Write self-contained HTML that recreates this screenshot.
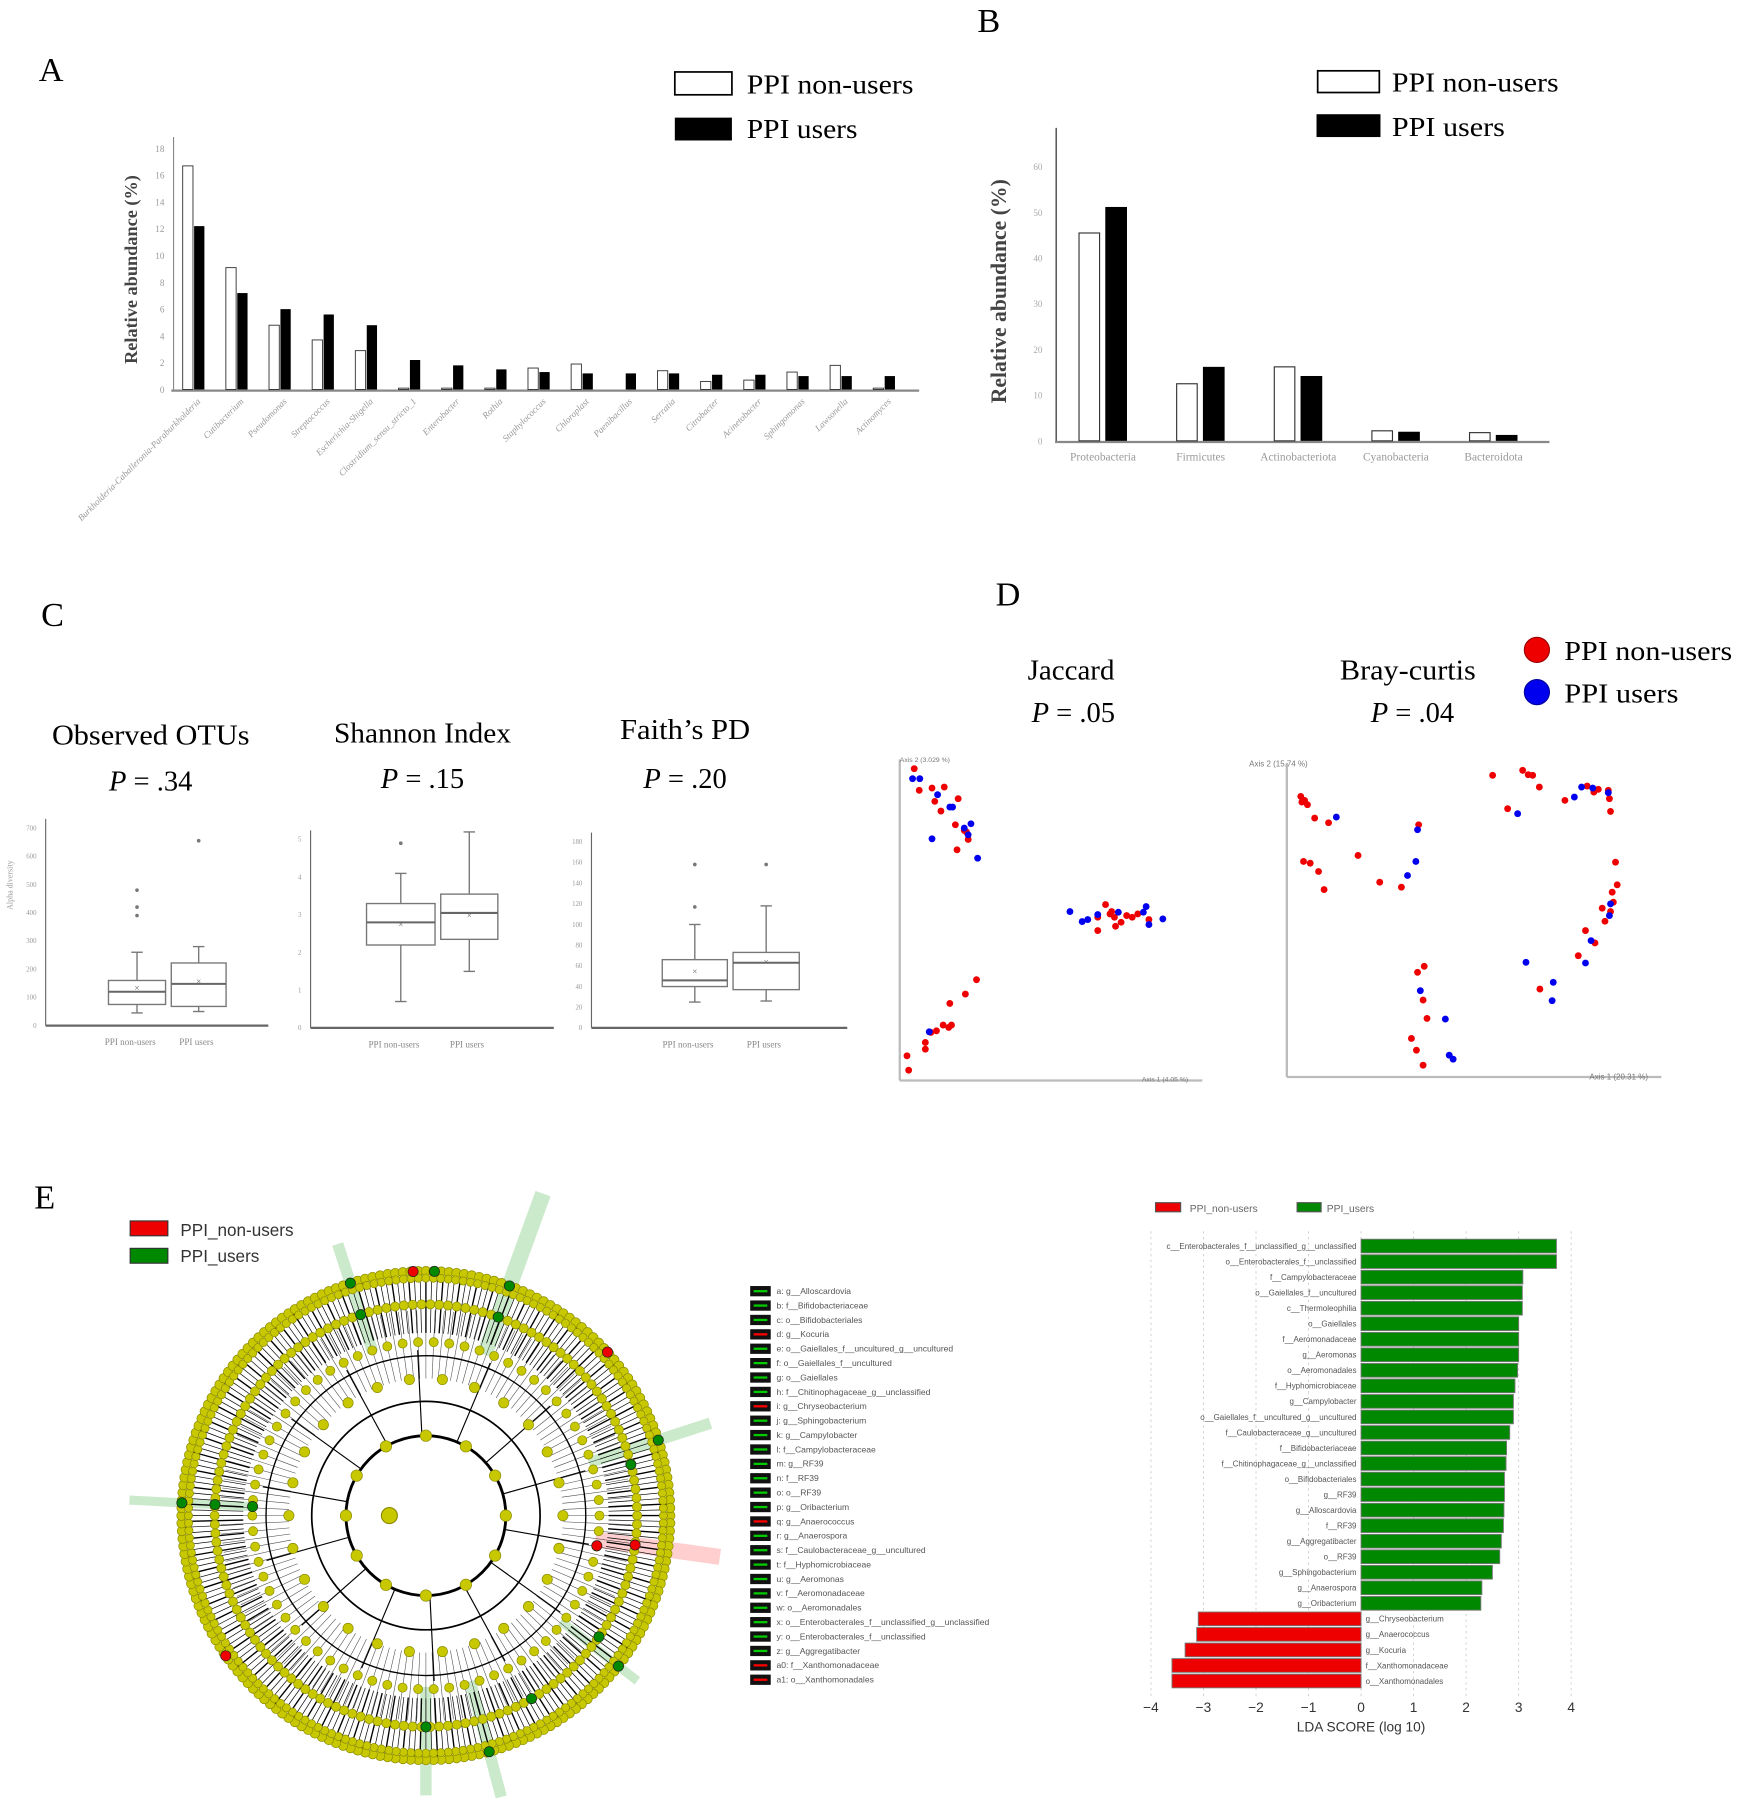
<!DOCTYPE html>
<html><head><meta charset="utf-8"><style>
html,body{margin:0;padding:0;background:#fff;}
svg{display:block;}
.serif{font-family:"Liberation Serif",serif;}
.sans{font-family:"Liberation Sans",sans-serif;}
</style></head><body>
<svg id="fig" xmlns="http://www.w3.org/2000/svg" width="1747" height="1800" viewBox="0 0 1530 1576" preserveAspectRatio="none">
<rect width="1530" height="1576" fill="#fff"/>
<g class="serif" font-size="30">
<text x="34" y="71">A</text>
<text x="856" y="28">B</text>
<text x="36" y="548">C</text>
<text x="872" y="530">D</text>
<text x="30" y="1058">E</text>
</g>
<g id="A"></g>
<g id="B"></g>
<g id="C"></g>
<g id="D"></g>
<g id="E1"></g>
<g id="E2"></g>
<g id="E3"></g>
</svg>
<script>
// ---------- Panel A data ----------
const genusNames = ["Burkholderia-Caballeronia-Paraburkholderia","Cutibacterium","Pseudomonas","Streptococcus","Escherichia-Shigella","Clostridium_sensu_stricto_1","Enterobacter","Rothia","Staphylococcus","Chloroplast","Paenibacillus","Serratia","Citrobacter","Acinetobacter","Sphingomonas","Lawsonella","Actinomyces"];
const genusNonUsers = [16.7,9.1,4.8,3.7,2.9,0.1,0.1,0.1,1.6,1.9,0,1.4,0.6,0.7,1.3,1.8,0.1];
const genusUsers = [12.2,7.2,6.0,5.6,4.8,2.2,1.8,1.5,1.3,1.2,1.2,1.2,1.1,1.1,1.0,1.0,1.0];
const genusTicks = [0,2,4,6,8,10,12,14,16,18];
// ---------- Panel B data ----------
const phylumNames = ["Proteobacteria","Firmicutes","Actinobacteriota","Cyanobacteria","Bacteroidota"];
const phylumNonUsers = [45.5,12.5,16.2,2.2,1.8];
const phylumUsers = [51.2,16.2,14.2,2.0,1.3];
const phylumTicks = [0,10,20,30,40,50,60];
// ---------- Panel C data ----------
const alphaTitles = ["Observed OTUs","Shannon Index","Faith’s PD"];
const alphaP = [".34",".15",".20"];
const alphaTicks = [[0,100,200,300,400,500,600,700],[0,1,2,3,4,5],[0,20,40,60,80,100,120,140,160,180]];
// [whiskerLow, Q1, median, Q3, whiskerHigh, mean]
const otuStats = [[45,75,120,160,260,135],[50,68,148,222,280,158]];
const otuOutliers = [[390,420,480],[655]];
const shannonStats = [[0.7,2.2,2.8,3.3,4.1,2.75],[1.5,2.35,3.05,3.55,5.2,3.0]];
const shannonOutliers = [[4.9],[]];
const faithStats = [[25,40,46,66,100,55],[26,37,63,73,118,64]];
const faithOutliers = [[117,158],[158]];
// ---------- Panel D data (PCoA scores, arbitrary units) ----------
const jacRedX=[88,97,120,142,125,167,136,162,178,185,165,182,432,418,440,448,460,470,480,490,418,450,510,443,200,180,152,140,155,128,118,108,108,75,78,150];
const jacRedY=[100,165,158,155,198,190,227,268,285,312,343,290,507,545,535,545,560,540,545,535,585,572,552,528,732,775,803,868,868,885,890,920,940,960,1003,875];
const jacBlueX=[85,98,130,152,157,120,178,190,185,202,368,390,400,418,455,500,505,510,535,115];
const jacBlueY=[130,130,178,215,215,310,278,265,298,368,528,558,552,537,530,530,513,567,550,888];
const brayRedX=[783,790,795,785,808,833,788,800,815,825,886,925,964,995,1128,1182,1192,1200,1212,1155,1258,1298,1310,1318,1336,1338,1340,1349,1352,1343,1325,1345,1340,1330,1295,1312,1282,1213,1005,993,1003,1010,982,991,1003];
const brayRedY=[183,195,208,200,248,262,378,383,408,462,360,440,455,268,120,105,118,120,155,220,195,152,170,162,165,190,228,380,448,470,518,500,528,557,585,622,660,760,692,710,793,848,908,943,988];
const brayBlueX=[847,993,990,975,1173,1275,1288,1308,1336,1340,1338,1305,1295,1188,1237,1235,998,1043,1050,1057];
const brayBlueY=[245,283,378,420,235,185,155,158,172,505,540,615,682,680,740,795,765,850,958,970];
// ---------- Panel E data ----------
const ldaLabels=["c__Enterobacterales_f__unclassified_g__unclassified","o__Enterobacterales_f__unclassified","f__Campylobacteraceae","o__Gaiellales_f__uncultured","c__Thermoleophilia","o__Gaiellales","f__Aeromonadaceae","g__Aeromonas","o__Aeromonadales","f__Hyphomicrobiaceae","g__Campylobacter","o__Gaiellales_f__uncultured_g__uncultured","f__Caulobacteraceae_g__uncultured","f__Bifidobacteriaceae","f__Chitinophagaceae_g__unclassified","o__Bifidobacteriales","g__RF39","g__Alloscardovia","f__RF39","g__Aggregatibacter","o__RF39","g__Sphingobacterium","g__Anaerospora","g__Oribacterium","g__Chryseobacterium","g__Anaerococcus","g__Kocuria","f__Xanthomonadaceae","o__Xanthomonadales"];
const ldaScores=[3.72,3.72,3.08,3.07,3.07,3.0,3.0,3.0,2.98,2.93,2.9,2.9,2.83,2.77,2.76,2.73,2.73,2.72,2.71,2.67,2.64,2.5,2.3,2.28,-3.1,-3.13,-3.35,-3.6,-3.6];
const ldaTicks=[-4,-3,-2,-1,0,1,2,3,4];
const keyLabels=["a: g__Alloscardovia","b: f__Bifidobacteriaceae","c: o__Bifidobacteriales","d: g__Kocuria","e: o__Gaiellales_f__uncultured_g__uncultured","f: o__Gaiellales_f__uncultured","g: o__Gaiellales","h: f__Chitinophagaceae_g__unclassified","i: g__Chryseobacterium","j: g__Sphingobacterium","k: g__Campylobacter","l: f__Campylobacteraceae","m: g__RF39","n: f__RF39","o: o__RF39","p: g__Oribacterium","q: g__Anaerococcus","r: g__Anaerospora","s: f__Caulobacteraceae_g__uncultured","t: f__Hyphomicrobiaceae","u: g__Aeromonas","v: f__Aeromonadaceae","w: o__Aeromonadales","x: o__Enterobacterales_f__unclassified_g__unclassified","y: o__Enterobacterales_f__unclassified","z: g__Aggregatibacter","a0: f__Xanthomonadaceae","a1: o__Xanthomonadales"];
const keyGroups=["u","u","u","n","u","u","u","u","n","u","u","u","u","u","u","u","n","u","u","u","u","u","u","u","u","u","n","n"];

const NS="http://www.w3.org/2000/svg";
function mk(parent,tag,attrs,text){const e=document.createElementNS(NS,tag);for(const k in attrs)e.setAttribute(k,attrs[k]);if(text!==undefined)e.textContent=text;parent.appendChild(e);return e;}
function lin(d0,d1,r0,r1){return v=>r0+(v-d0)*(r1-r0)/(d1-d0);}
function fit(el,len){el.setAttribute('textLength',len);el.setAttribute('lengthAdjust','spacingAndGlyphs');}

// ---------- Panel A ----------
(function(){
const g=document.getElementById('A');
const y=lin(0,18,341,130), x0=170, step=37.8;
let e=mk(g,'line',{x1:152,y1:120,x2:152,y2:342,stroke:'#888','stroke-width':1});

e=mk(g,'line',{x1:150,y1:342,x2:805,y2:342,stroke:'#888','stroke-width':2});

genusTicks.forEach(t=>{const tt=mk(g,'text',{x:144,y:y(t)+3,'font-size':8,fill:'#999','text-anchor':'end',class:'serif'},t);
});
e=mk(g,'text',{x:0,y:0,'font-size':16,'font-weight':'bold',fill:'#444',class:'serif',transform:'translate(120,236) rotate(-90)','text-anchor':'middle'},'Relative abundance (%)');

genusNames.forEach((n,i)=>{const cx=x0+i*step;
let b=mk(g,'rect',{x:cx-10,y:y(genusNonUsers[i]),width:9,height:341-y(genusNonUsers[i]),fill:'#fff',stroke:'#333','stroke-width':0.8});

b=mk(g,'rect',{x:cx+0,y:y(genusUsers[i]),width:9,height:341-y(genusUsers[i]),fill:'#000'});

const t=mk(g,'text',{x:0,y:0,'font-size':8,fill:'#999','font-style':'italic',class:'serif','text-anchor':'end',transform:`translate(${cx+6},352) rotate(-45)`},n);
});
let r=mk(g,'rect',{x:591,y:63,width:50,height:20,fill:'#fff',stroke:'#000','stroke-width':1.5});
r=mk(g,'rect',{x:591,y:103,width:50,height:20,fill:'#000'});
r=mk(g,'text',{x:654,y:82,'font-size':24,class:'serif'},'PPI non-users');fit(r,146);
r=mk(g,'text',{x:654,y:121,'font-size':24,class:'serif'},'PPI users');fit(r,97);
})();

// ---------- Panel B ----------
(function(){
const g=document.getElementById('B');
const y=lin(0,60,386,146), cxs0=966, step=85.5;
let e=mk(g,'line',{x1:925,y1:112,x2:925,y2:387,stroke:'#444','stroke-width':1.2});

e=mk(g,'line',{x1:924,y1:387,x2:1357,y2:387,stroke:'#888','stroke-width':2});

phylumTicks.forEach(t=>{const tt=mk(g,'text',{x:913,y:y(t)+3,'font-size':8,fill:'#aaa','text-anchor':'end',class:'serif'},t);
});
e=mk(g,'text',{x:0,y:0,'font-size':19,'font-weight':'bold',fill:'#444',class:'serif',transform:'translate(881,255) rotate(-90)','text-anchor':'middle'},'Relative abundance (%)');

phylumNames.forEach((n,i)=>{const cx=cxs0+i*step;
let b=mk(g,'rect',{x:cx-21,y:y(phylumNonUsers[i]),width:18,height:386-y(phylumNonUsers[i]),fill:'#fff',stroke:'#333','stroke-width':1});

b=mk(g,'rect',{x:cx+2,y:y(phylumUsers[i]),width:19,height:386-y(phylumUsers[i]),fill:'#000'});

const t=mk(g,'text',{x:cx,y:403,'font-size':10,fill:'#999',class:'serif','text-anchor':'middle'},n);
});
let r=mk(g,'rect',{x:1154,y:62,width:54,height:19,fill:'#fff',stroke:'#000','stroke-width':1.5});
r=mk(g,'rect',{x:1153,y:100,width:56,height:20,fill:'#000'});
r=mk(g,'text',{x:1219,y:80,'font-size':24,class:'serif'},'PPI non-users');fit(r,146);
r=mk(g,'text',{x:1219,y:119,'font-size':24,class:'serif'},'PPI users');fit(r,99);
})();

// ---------- Panel C ----------
(function(){
const g=document.getElementById('C');
const panels=[
 {ax:40,x2:235,top:725,bot:898,max:700,stats:otuStats,out:otuOutliers,boxes:[[95,145],[150,198]],tx:132,ty:652,py:692,tw:173},
 {ax:272,x2:485,top:735,bot:900,max:5,stats:shannonStats,out:shannonOutliers,boxes:[[321,381],[386,436]],tx:370,ty:650,py:690,tw:155},
 {ax:518,x2:742,top:737,bot:900,max:180,stats:faithStats,out:faithOutliers,boxes:[[580,637],[642,700]],tx:600,ty:647,py:690,tw:114}];
panels.forEach((p,k)=>{
 const y=lin(0,p.max,p.bot,p.top);
 let t=mk(g,'text',{x:p.tx,y:p.ty,'font-size':25,'text-anchor':'middle',class:'serif'},alphaTitles[k]);
 fit(t,p.tw);
 
 t=mk(g,'text',{x:p.tx,y:p.py,'font-size':25,'text-anchor':'middle',class:'serif'});
 mk(t,'tspan',{'font-style':'italic'},'P');mk(t,'tspan',{},' = '+alphaP[k]);
 
 let a=mk(g,'line',{x1:p.ax,y1:p.top-8,x2:p.ax,y2:p.bot,stroke:'#666','stroke-width':1});
 
 a=mk(g,'line',{x1:p.ax,y1:p.bot,x2:p.x2,y2:p.bot,stroke:'#666','stroke-width':2});
 
 alphaTicks[k].forEach(v=>{const tt=mk(g,'text',{x:p.ax-8,y:y(v)+2,'font-size':6,fill:'#999','text-anchor':'end',class:'serif'},v);
  });
 if(k===0){const yl=mk(g,'text',{x:0,y:0,'font-size':7,fill:'#999',class:'serif','text-anchor':'middle',transform:'translate(11,775) rotate(-90)'},'Alpha diversity');}
 p.stats.forEach((s,i)=>{const [x1,x2]=p.boxes[i],cx=(x1+x2)/2;
  const bx=mk(g,'g',{stroke:'#777','stroke-width':1.2,fill:'none'});
  
  mk(bx,'line',{x1:cx,y1:y(s[0]),x2:cx,y2:y(s[1])});
  mk(bx,'line',{x1:cx,y1:y(s[3]),x2:cx,y2:y(s[4])});
  mk(bx,'line',{x1:cx-5,y1:y(s[0]),x2:cx+5,y2:y(s[0])});
  mk(bx,'line',{x1:cx-5,y1:y(s[4]),x2:cx+5,y2:y(s[4])});
  mk(bx,'rect',{x:x1,y:y(s[3]),width:x2-x1,height:y(s[1])-y(s[3]),fill:'#fff'});
  mk(bx,'line',{x1:x1,y1:y(s[2]),x2:x2,y2:y(s[2]),'stroke-width':1.8,stroke:'#666'});
  mk(bx,'text',{x:cx,y:y(s[5])+3,'font-size':8,'text-anchor':'middle',stroke:'none',fill:'#666'},'×');
  p.out[i].forEach(o=>{const c=mk(g,'circle',{cx:cx,cy:y(o),r:1.6,fill:'#777'});});
  const lb=mk(g,'text',{x:cx+(i?-2:-6),y:p.bot+17,'font-size':8,fill:'#888','text-anchor':'middle',class:'serif'},i?'PPI users':'PPI non-users');
  
 });
});
})();

// ---------- Panel D ----------
(function(){
const g=document.getElementById('D');
const sx=lin(62,758,788,1127), sy=lin(100,1003,673,937);
function T(x,y,s,txt,nm,extra){const t=mk(g,'text',Object.assign({x:x,y:y,'font-size':s,class:'serif'},extra||{}),txt);return t;}
fit(T(938,595,25,'Jaccard','jaccard-title',{'text-anchor':'middle'}),76);
let p=T(940,632,25,'','jaccard-p-value',{'text-anchor':'middle'});mk(p,'tspan',{'font-style':'italic'},'P');mk(p,'tspan',{},' = .05');
fit(T(1233,595,25,'Bray-curtis','bray-curtis-title',{'text-anchor':'middle'}),119);
p=T(1237,632,25,'','bray-curtis-p-value',{'text-anchor':'middle'});mk(p,'tspan',{'font-style':'italic'},'P');mk(p,'tspan',{},' = .04');
let c=mk(g,'circle',{cx:1346,cy:569,r:11,fill:'#e00',stroke:'#900'});
c=mk(g,'circle',{cx:1346,cy:606,r:11,fill:'#00e',stroke:'#009'});
fit(T(1370,578,24,'PPI non-users','legend-label-non-users'),147);
fit(T(1370,615,24,'PPI users','legend-label-users'),100);
[[788,665,788,946],[788,946,1053,946],[1127,668,1127,943],[1127,943,1455,943]].forEach((l,i)=>{const a=mk(g,'line',{x1:l[0],y1:l[1],x2:l[2],y2:l[3],stroke:'#bbb','stroke-width':2});});
T(788,667,6,'Axis 2 (3.029 %)','jaccard-y-axis-title',{fill:'#777',class:'sans'});
T(1000,947,6,'Axis 1 (4.05 %)','jaccard-x-axis-title',{fill:'#777',class:'sans'});
T(1094,671,7,'Axis 2 (15.74 %)','bray-y-axis-title',{fill:'#777',class:'sans'});
T(1392,945,7,'Axis 1 (20.31 %)','bray-x-axis-title',{fill:'#777',class:'sans'});
function pts(X,Y,col,nm){X.forEach((v,i)=>{const d=mk(g,'circle',{cx:sx(v),cy:sy(Y[i]),r:3,fill:col});});}
pts(jacRedX,jacRedY,'#e00','jaccard-point-non-user');pts(jacBlueX,jacBlueY,'#00e','jaccard-point-user');
pts(brayRedX,brayRedY,'#e00','bray-point-non-user');pts(brayBlueX,brayBlueY,'#00e','bray-point-user');
})();

// ---------- Panel E: cladogram ----------
(function(){
const g=document.getElementById('E1');
const cx=373,cy=1327;
let r=mk(g,'rect',{x:114,y:1069,width:33,height:13,fill:'#e00',stroke:'#333'});
r=mk(g,'rect',{x:114,y:1093,width:33,height:13,fill:'#080',stroke:'#333'});
r=mk(g,'text',{x:158,y:1082,'font-size':15,fill:'#333',class:'sans'},'PPI_non-users');
r=mk(g,'text',{x:158,y:1105,'font-size':15,fill:'#333',class:'sans'},'PPI_users');
const P=(rad,a)=>[cx+rad*Math.cos(a*Math.PI/180),cy+rad*Math.sin(a*Math.PI/180)];
const wedges=[[-70,300,'#3a3',14],[-108,250,'#3a3',10],[-18,262,'#3a3',10],[183,260,'#3a3',8],[75,255,'#3a3',10],[90,245,'#3a3',10],[38,235,'#3a3',8],[8,260,'#f44',14]];
wedges.forEach(w=>{const [x1,y1]=P(150,w[0]),[x2,y2]=P(w[1],w[0]);const l=mk(g,'line',{x1,y1,x2,y2,stroke:w[2],'stroke-width':w[3],opacity:0.25});});
for(let i=0;i<260;i++){const a=i*360/260;const [x1,y1]=P(160,a),[x2,y2]=P(212,a);mk(g,'line',{x1,y1,x2,y2,stroke:'#000','stroke-width':(i%3?0.6:1.2)});}
for(let i=0;i<140;i++){const a=i*360/140;const [x1,y1]=P(120,a),[x2,y2]=P(180,a);mk(g,'line',{x1,y1,x2,y2,stroke:'#000','stroke-width':0.5,opacity:0.7});}
[[70,2.5],[100,1.5],[140,1.2]].forEach(c=>{const cc=mk(g,'circle',{cx,cy,r:c[0],fill:'none',stroke:'#000','stroke-width':c[1]});});
for(let i=0;i<14;i++){const a=i*360/14+10;const [x1,y1]=P(70,a),[x2,y2]=P(145,a);mk(g,'line',{x1,y1,x2,y2,stroke:'#000','stroke-width':1});}
const dotRing=(rad,n,rr)=>{for(let i=0;i<n;i++){const a=i*360/n;const [x,y]=P(rad,a);mk(g,'circle',{cx:x,cy:y,r:rr,fill:'#c8c800',stroke:'#8a8a00','stroke-width':0.6});}};
dotRing(214,200,4.2);dotRing(208,200,3.6);dotRing(185,150,4);dotRing(152,70,4);dotRing(120,26,4.5);dotRing(70,12,5);
mk(g,'circle',{cx:cx-32,cy:cy,r:7,fill:'#c8c800',stroke:'#8a8a00'});
[[-70,185,'#080'],[-70,214,'#080'],[-108,214,'#080'],[-108,185,'#080'],[-18,214,'#080'],[-14,185,'#080'],[183,214,'#080'],[183,185,'#080'],[183,152,'#080'],[75,214,'#080'],[60,185,'#080'],[90,185,'#080'],[38,214,'#080'],[35,185,'#080'],[8,185,'#e00'],[10,152,'#e00'],[-93,214,'#e00'],[-42,214,'#e00'],[145,214,'#e00'],[-88,214,'#080']].forEach(m=>{const [x,y]=P(m[1],m[0]);const c=mk(g,'circle',{cx:x,cy:y,r:4.5,fill:m[2],stroke:'#222','stroke-width':0.6});});
})();

// ---------- Panel E: key list ----------
(function(){
const g=document.getElementById('E2');
keyLabels.forEach((k,i)=>{const y=1130+i*12.6;
 const b=mk(g,'rect',{x:657,y:y-4,width:18,height:9,fill:'#111'});
 mk(g,'line',{x1:660,y1:y+0.5,x2:672,y2:y+0.5,stroke:keyGroups[i]==='n'?'#f00':'#0c0','stroke-width':2});
 const t=mk(g,'text',{x:680,y:y+3,'font-size':7.5,fill:'#555',class:'sans'},k);});
})();

// ---------- Panel E: LDA chart ----------
(function(){
const g=document.getElementById('E3');
const x=lin(0,4,1192,1376), y0=1091, step=13.6, h=12;
let r=mk(g,'rect',{x:1012,y:1053,width:22,height:8,fill:'#e00',stroke:'#555'});
r=mk(g,'rect',{x:1136,y:1053,width:21,height:8,fill:'#080',stroke:'#555'});
r=mk(g,'text',{x:1042,y:1061,'font-size':9,fill:'#666',class:'sans'},'PPI_non-users');
r=mk(g,'text',{x:1162,y:1061,'font-size':9,fill:'#666',class:'sans'},'PPI_users');
ldaTicks.forEach(t=>{const gl=mk(g,'line',{x1:x(t),y1:1078,x2:x(t),y2:1485,stroke:'#ccc','stroke-dasharray':'2,3','stroke-width':0.8});
 const tl=mk(g,'text',{x:x(t),y:1499,'font-size':12,fill:'#333','text-anchor':'middle',class:'sans'},(t<0?'−':'')+Math.abs(t));});
r=mk(g,'text',{x:1192,y:1516,'font-size':12,fill:'#333','text-anchor':'middle',class:'sans'},'LDA SCORE (log 10)');
ldaScores.forEach((s,i)=>{const y=y0+i*step;
 const b=mk(g,'rect',{x:Math.min(x(0),x(s)),y:y-h/2,width:Math.abs(x(s)-x(0)),height:h,fill:s>0?'#080':'#e00',stroke:'#777','stroke-width':0.8});
 
 const t=mk(g,'text',{x:s>0?x(0)-4:x(0)+4,y:y+2.5,'font-size':7,fill:'#555','text-anchor':s>0?'end':'start',class:'sans'},ldaLabels[i]);
 });
})();
</script>
</body></html>
